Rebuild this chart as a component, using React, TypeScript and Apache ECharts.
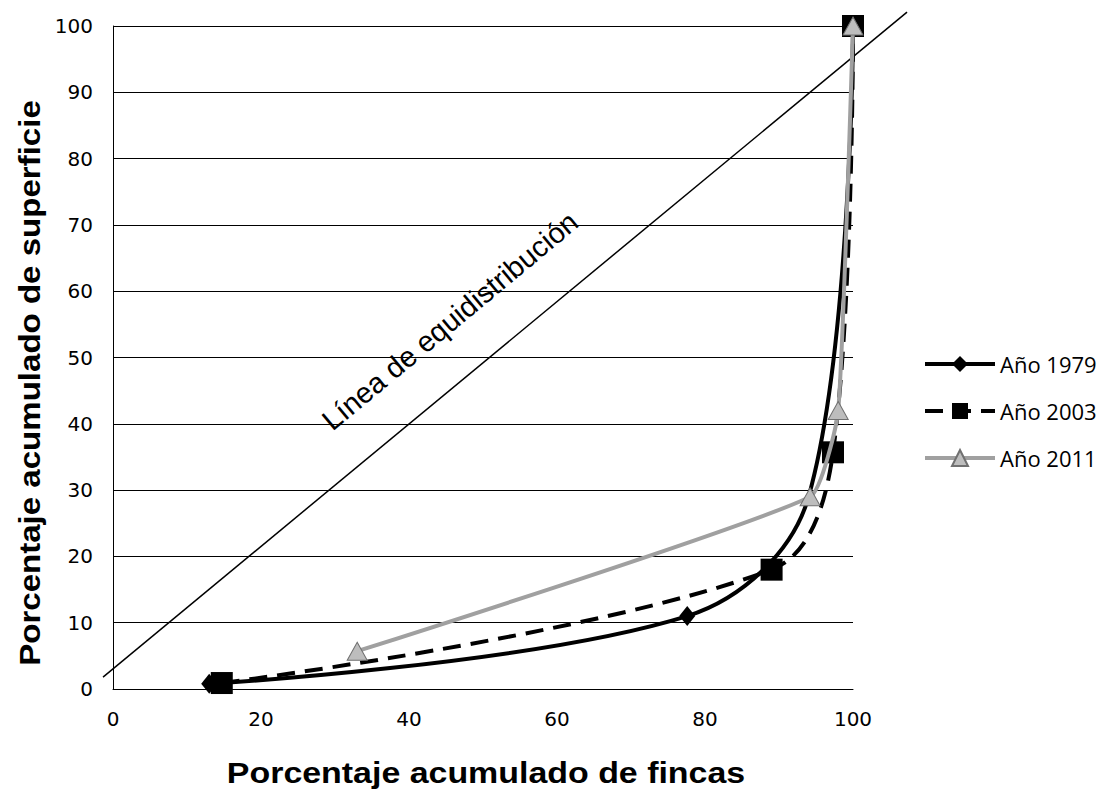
import React, { useEffect, useRef } from "react";
import * as echarts from "echarts";

const seriesNames = ["Año 1979", "Año 2003", "Año 2011"];
const fincas1979 = [13, 77.6, 94, 100];
const superficie1979 = [0.8, 11, 29, 100];
const fincas2003 = [14.7, 89, 97.3, 100];
const superficie2003 = [0.9, 18, 35.7, 100];
const fincas2011 = [33, 94.2, 98, 100];
const superficie2011 = [5.7, 29, 42, 100];
const equidistX = [-1.35, 107.3];
const equidistY = [1.8, 102.1];
const xTitle = "Porcentaje acumulado de fincas";
const yTitle = "Porcentaje acumulado de superficie";
const diagLabel = "Línea de equidistribución";

const pairs = (xs: number[], ys: number[]) => xs.map((x, i) => [x, ys[i]]);

export default function App() {
  const ref = useRef<HTMLDivElement>(null);
  useEffect(() => {
    if (!ref.current) return;
    const chart = echarts.init(ref.current, null, { renderer: "svg" });
    const d1979: any[] = pairs(fincas1979, superficie1979).map((p, i) =>
      i === 2 ? { value: p, symbol: "none" } : p
    );
    const texts: any[] = [
      {
        type: "text",
        x: 486,
        y: 773,
        scaleX: 1.17,
        style: {
          text: xTitle,
          font: 'bold 29px "Liberation Sans"',
          fill: "#000",
          align: "center",
          verticalAlign: "middle",
        },
      },
      {
        type: "text",
        x: 30,
        y: 383,
        rotation: Math.PI / 2,
        scaleX: 1.14,
        style: {
          text: yTitle,
          font: 'bold 29px "Liberation Sans"',
          fill: "#000",
          align: "center",
          verticalAlign: "middle",
        },
      },
      {
        type: "text",
        x: 450,
        y: 321,
        rotation: (39.8 * Math.PI) / 180,
        style: {
          text: diagLabel,
          font: '29px "Liberation Sans"',
          fill: "#000",
          align: "center",
          verticalAlign: "middle",
        },
      },
    ];
    const option: any = {
      animation: false,
      backgroundColor: "#ffffff",
      grid: { left: 113, right: 248, top: 26, bottom: 102, containLabel: false },
      xAxis: {
        type: "value",
        min: 0,
        max: 100,
        interval: 20,
        axisLine: { show: true, lineStyle: { color: "#000", width: 1 } },
        axisTick: { show: false },
        splitLine: { show: false },
        axisLabel: { color: "#000", fontFamily: "DejaVu Sans", fontSize: 20, margin: 20 },
      },
      yAxis: {
        type: "value",
        min: 0,
        max: 100,
        interval: 10,
        axisLine: { show: true, lineStyle: { color: "#000", width: 1 } },
        axisTick: { show: false },
        splitLine: { show: true, lineStyle: { color: "#000", width: 1 } },
        axisLabel: { color: "#000", fontFamily: "DejaVu Sans", fontSize: 20, margin: 20 },
      },
      legend: {
        data: seriesNames,
        orient: "vertical",
        left: 918,
        top: 348,
        itemWidth: 70,
        itemHeight: 20,
        itemGap: 25,
        itemGap2: 0,
        lineStyle: { width: 4 },
        textStyle: { color: "#000", fontFamily: "Open Sans", fontSize: 22 },
      },
      graphic: texts,
      series: [
        {
          name: seriesNames[0],
          type: "line",
          data: d1979,
          smooth: 0.35,
          symbol: "diamond",
          symbolSize: [16, 20],
          showAllSymbol: true,
          lineStyle: { color: "#000", width: 4 },
          itemStyle: { color: "#000", borderColor: "#000", borderWidth: 0 },
          z: 2,
        },
        {
          name: seriesNames[1],
          type: "line",
          data: pairs(fincas2003, superficie2003),
          smooth: 0.35,
          symbol: "rect",
          symbolSize: 22,
          showAllSymbol: true,
          lineStyle: { color: "#000", width: 4, type: [18, 10] },
          itemStyle: { color: "#000", borderColor: "#000", borderWidth: 0 },
          z: 3,
        },
        {
          name: seriesNames[2],
          type: "line",
          data: pairs(fincas2011, superficie2011),
          smooth: 0.15,
          symbol: "triangle",
          symbolSize: [20, 18],
          showAllSymbol: true,
          lineStyle: { color: "#a0a0a0", width: 4 },
          itemStyle: { color: "#bdbdbd", borderColor: "#707070", borderWidth: 1 },
          z: 4,
        },
      ],
    };
    chart.setOption(option);
    const p0 = chart.convertToPixel({ gridIndex: 0 }, [equidistX[0], equidistY[0]]) as number[];
    const p1 = chart.convertToPixel({ gridIndex: 0 }, [equidistX[1], equidistY[1]]) as number[];
    chart.setOption({
      graphic: [
        ...texts,
        {
          type: "line",
          z: 1,
          silent: true,
          shape: { x1: p0[0], y1: p0[1], x2: p1[0], y2: p1[1] },
          style: { stroke: "#000", lineWidth: 1.5 },
        },
      ],
    });
    return () => chart.dispose();
  }, []);
  return (
    <div
      ref={ref}
      style={{ position: "fixed", left: 0, top: 0, width: 1101, height: 791, background: "#fff" }}
    />
  );
}
